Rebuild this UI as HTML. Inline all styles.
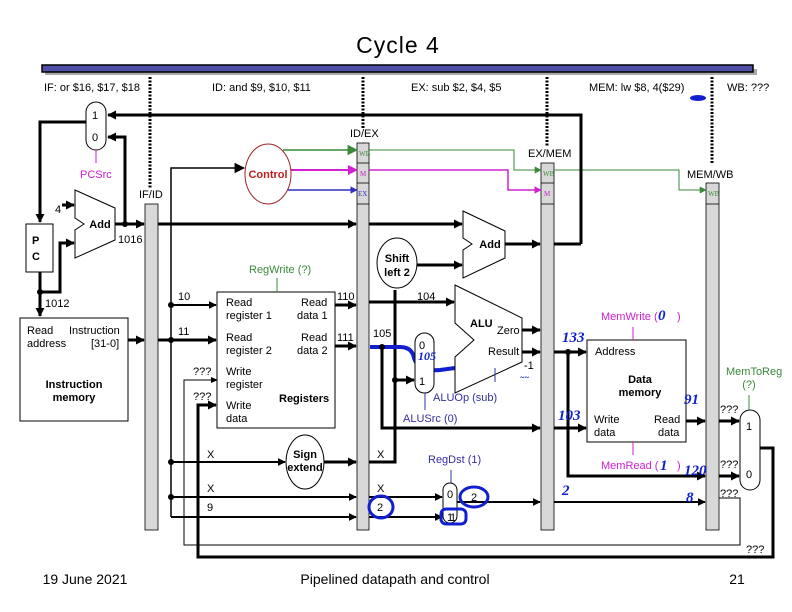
<!DOCTYPE html>
<html><head><style>
body{margin:0;background:#fff}
svg{display:block;font-family:"Liberation Sans",sans-serif}
</style></head><body>
<svg width="792" height="612" viewBox="0 0 792 612">
<defs>
<marker id="a" viewBox="0 0 10 10" refX="9" refY="5" markerWidth="3" markerHeight="3" orient="auto" markerUnits="strokeWidth"><path d="M0,0L10,5L0,10z" fill="#000"/></marker>
<marker id="c" viewBox="0 0 10 10" refX="9" refY="5" markerWidth="4" markerHeight="4" orient="auto" markerUnits="strokeWidth"><path d="M0,0L10,5L0,10z" fill="#000"/></marker>
<marker id="t" viewBox="0 0 10 10" refX="9" refY="5" markerWidth="7" markerHeight="7" orient="auto" markerUnits="strokeWidth"><path d="M0,0L10,5L0,10z" fill="#000"/></marker>
<marker id="g" viewBox="0 0 10 10" refX="9" refY="5" markerWidth="7" markerHeight="7" orient="auto" markerUnits="strokeWidth"><path d="M0,0L10,5L0,10z" fill="#3a8a3a"/></marker>
<marker id="m" viewBox="0 0 10 10" refX="9" refY="5" markerWidth="5" markerHeight="5" orient="auto" markerUnits="strokeWidth"><path d="M0,0L10,5L0,10z" fill="#d020d0"/></marker>
<marker id="b" viewBox="0 0 10 10" refX="9" refY="5" markerWidth="5" markerHeight="5" orient="auto" markerUnits="strokeWidth"><path d="M0,0L10,5L0,10z" fill="#3030c0"/></marker>
</defs>
<text x="398" y="53" font-size="23" text-anchor="middle" letter-spacing="1">Cycle 4</text>
<rect x="45" y="69" width="712" height="6" fill="#aaa"/>
<rect x="42" y="65" width="711" height="7" fill="#5050a8" stroke="#000" stroke-width="1.5"/>
<g stroke="#000" stroke-width="3" stroke-dasharray="2,1.5">
<line x1="150" y1="77" x2="150" y2="188"/><line x1="363" y1="77" x2="363" y2="128"/>
<line x1="547" y1="77" x2="547" y2="147"/><line x1="712" y1="77" x2="712" y2="163"/></g>
<g font-size="11">
<text x="44" y="91">IF: or $16, $17, $18</text><text x="212" y="91">ID: and $9, $10, $11</text>
<text x="411" y="91">EX: sub $2, $4, $5</text><text x="589" y="91">MEM: lw $8, 4($29)</text>
<text x="727" y="91">WB: ???</text>
<text x="139" y="198">IF/ID</text><text x="350" y="137">ID/EX</text><text x="528" y="157">EX/MEM</text><text x="687" y="178">MEM/WB</text>
</g>
<g fill="#d8d8d8" stroke="#000" stroke-width="0.8">
<rect x="145" y="204" width="13" height="326"/>
<rect x="357" y="143" width="12" height="387"/>
<line x1="357" y1="163" x2="369" y2="163"/><line x1="357" y1="183" x2="369" y2="183"/><line x1="357" y1="204" x2="369" y2="204"/>
<rect x="541" y="163" width="13" height="367"/>
<line x1="541" y1="183" x2="554" y2="183"/><line x1="541" y1="204" x2="554" y2="204"/>
<rect x="706" y="183" width="13" height="347"/>
<line x1="706" y1="204" x2="719" y2="204"/>
</g>
<g font-size="7" font-family="Liberation Serif">
<text x="359" y="156" fill="#3a8a3a">WB</text><text x="360" y="176" fill="#d020d0">M</text><text x="358" y="196" fill="#3030c0">EX</text>
<text x="543" y="176" fill="#3a8a3a">WB</text><text x="544" y="196" fill="#d020d0">M</text><text x="708" y="196" fill="#3a8a3a">WB</text>
</g>
<g fill="none" stroke-width="1.5">
<polyline points="283,150 357,150" stroke="#3a8a3a" marker-end="url(#g)"/>
<polyline points="291,170 357,170" stroke="#d020d0" stroke-width="2" marker-end="url(#m)"/>
<polyline points="287,190 357,190" stroke="#3030c0" marker-end="url(#b)"/>
<polyline points="369,150 514,150 514,170 541,170" stroke="#3a8a3a" stroke-width="1" marker-end="url(#g)"/>
<polyline points="369,170 508,170 508,190 541,190" stroke="#d020d0" marker-end="url(#m)"/>
<polyline points="554,170 679,170 679,190 706,190" stroke="#3a8a3a" stroke-width="1" marker-end="url(#g)"/>
</g>
<ellipse cx="268" cy="174" rx="23" ry="30" fill="#fff" stroke="#a02020"/>
<text x="268" y="178" font-size="11" font-weight="bold" fill="#c02020" text-anchor="middle">Control</text>
<g fill="none" stroke="#000" stroke-width="3">
<polyline points="581,244 581,115 108,115" marker-end="url(#a)"/>
<polyline points="554,244 581,244"/>
<polyline points="86,122 40,122 40,222" marker-end="url(#a)"/>
<polyline points="40,272 40,316" marker-end="url(#a)"/>
<polyline points="40,292 60,292 60,243 74,243" marker-end="url(#a)"/>
<polyline points="62,205 74,205" marker-end="url(#a)"/>
<polyline points="115,224 144,224" marker-end="url(#a)"/>
<polyline points="125,224 125,137 108,137" marker-end="url(#a)"/>
<polyline points="158,224 356,224" marker-end="url(#a)"/>
<polyline points="369,224 462,224" marker-end="url(#a)"/>
<polyline points="416,265 462,265" marker-end="url(#a)"/>
<polyline points="505,244 540,244" marker-end="url(#a)"/>
<polyline points="128,340 144,340" marker-end="url(#a)"/>
<polyline points="158,340 216,340" marker-end="url(#a)"/>
<polyline points="335,305 356,305" marker-end="url(#a)"/>
<polyline points="335,346 356,346" marker-end="url(#a)"/>
<polyline points="369,302 454,302" marker-end="url(#a)"/>
<polyline points="382,347 382,428 540,428" marker-end="url(#a)"/>
<polyline points="395,290 395,462 369,462"/>
<polyline points="395,380 414,380" marker-end="url(#a)"/>
<polyline points="324,462 356,462" marker-end="url(#a)"/>
<polyline points="522,330 540,330" marker-end="url(#a)"/>
<polyline points="522,352 540,352" marker-end="url(#a)"/>
<polyline points="554,352 586,352" marker-end="url(#a)"/>
<polyline points="568,352 568,476 705,476" marker-end="url(#a)"/>
<polyline points="554,428 586,428" marker-end="url(#a)"/>
<polyline points="686,421 705,421" marker-end="url(#a)"/>
<polyline points="719,421 739,421" marker-end="url(#a)"/>
<polyline points="719,476 739,476" marker-end="url(#a)"/>
<polyline points="760,448 773,448 773,557 198,557 198,405 216,405" marker-end="url(#a)"/>
</g>
<g fill="none" stroke="#000" stroke-width="2">
<polyline points="171,517 171,168 244,168" marker-end="url(#t)" stroke-width="1.5"/>
<polyline points="171,305 216,305" marker-end="url(#c)"/>
<polyline points="171,462 285,462" marker-end="url(#c)"/>
<polyline points="171,497 356,497" marker-end="url(#c)"/>
<polyline points="171,517 356,517" marker-end="url(#c)"/>
<polyline points="369,497 442,497" marker-end="url(#c)"/>
<polyline points="369,517 442,517" marker-end="url(#c)"/>
<polyline points="457,502 540,502" marker-end="url(#c)"/>
<polyline points="554,502 705,502" marker-end="url(#c)"/>
</g>
<polyline points="719,498 740,498 740,545 184,545 184,380 216,380" fill="none" stroke="#000" stroke-width="1"/>
<polygon points="211,377 218,380 211,383" fill="#000"/>
<path d="M370,347 L400,347 Q412,347 414,358 Q418,372 440,370 L455,368" fill="none" stroke="#1020d0" stroke-width="4"/>
<g fill="#000">
<circle cx="125" cy="224" r="3"/><circle cx="40" cy="292" r="3"/><circle cx="171" cy="305" r="3"/><circle cx="171" cy="340" r="3"/>
<circle cx="171" cy="462" r="3"/><circle cx="171" cy="497" r="3"/><circle cx="382" cy="347" r="3"/><circle cx="395" cy="380" r="3"/><circle cx="568" cy="352" r="3"/>
</g>
<g fill="#fff" stroke="#000" stroke-width="1">
<rect x="86" y="102" width="20" height="48" rx="10"/>
<rect x="415" y="333" width="19" height="60" rx="9.5"/>
<rect x="443" y="483" width="14" height="40" rx="7"/>
<rect x="740" y="410" width="20" height="80" rx="10"/>
<polygon points="75,190 115,208 115,240 75,258 75,230 84,224 75,218"/>
<polygon points="463,211 505,231 505,258 463,278 463,250 472,244 463,238"/>
<polygon points="455,285 522,318 522,362 455,393 455,357 474,340 455,323"/>
<rect x="26" y="224" width="27" height="48"/>
<rect x="20" y="318" width="108" height="103"/>
<rect x="217" y="292" width="118" height="136"/>
<rect x="587" y="340" width="99" height="102"/>
<ellipse cx="397" cy="263" rx="20" ry="25"/>
<ellipse cx="305" cy="462" rx="19" ry="27"/>
</g>
<g stroke-width="1" fill="none">
<line x1="96" y1="150" x2="96" y2="163" stroke="#d020d0"/>
<line x1="277" y1="278" x2="277" y2="292" stroke="#3a8a3a"/>
<line x1="425" y1="393" x2="425" y2="410" stroke="#3030a0"/>
<line x1="495" y1="368" x2="495" y2="382" stroke="#3030a0"/>
<line x1="451" y1="470" x2="451" y2="483" stroke="#3030a0"/>
<line x1="633" y1="327" x2="633" y2="340" stroke="#d020d0"/>
<line x1="633" y1="442" x2="633" y2="455" stroke="#d020d0"/>
<line x1="749" y1="395" x2="749" y2="410" stroke="#3a8a3a"/>
</g>
<g font-size="11">
<text x="92" y="119">1</text><text x="92" y="141">0</text>
<text x="419" y="349">0</text><text x="419" y="385">1</text>
<text x="447" y="498">0</text><text x="447" y="521">1</text>
<text x="746" y="430">1</text><text x="746" y="478">0</text>
<text x="55" y="213">4</text><text x="118" y="243">1016</text><text x="45" y="307">1012</text>
<text x="32" y="244" font-weight="bold">P</text><text x="32" y="260" font-weight="bold">C</text>
<text x="100" y="228" font-weight="bold" text-anchor="middle">Add</text>
<text x="490" y="248" font-weight="bold" text-anchor="middle">Add</text>
<text x="397" y="262" font-weight="bold" text-anchor="middle">Shift</text><text x="397" y="276" font-weight="bold" text-anchor="middle">left 2</text>
<text x="305" y="458" font-weight="bold" text-anchor="middle">Sign</text><text x="305" y="471" font-weight="bold" text-anchor="middle">extend</text>
<text x="470" y="327" font-weight="bold">ALU</text><text x="497" y="334">Zero</text><text x="488" y="355">Result</text><text x="524" y="369">-1</text>
<text x="27" y="334">Read</text><text x="69" y="334">Instruction</text><text x="27" y="347">address</text><text x="91" y="347">[31-0]</text>
<text x="74" y="388" font-weight="bold" text-anchor="middle">Instruction</text><text x="74" y="401" font-weight="bold" text-anchor="middle">memory</text>
<text x="226" y="306">Read</text><text x="226" y="319">register 1</text><text x="301" y="306">Read</text><text x="297" y="319">data 1</text>
<text x="226" y="341">Read</text><text x="226" y="354">register 2</text><text x="301" y="341">Read</text><text x="297" y="354">data 2</text>
<text x="226" y="375">Write</text><text x="226" y="388">register</text><text x="226" y="409">Write</text><text x="226" y="422">data</text>
<text x="279" y="402" font-weight="bold">Registers</text>
<text x="595" y="355">Address</text><text x="640" y="383" font-weight="bold" text-anchor="middle">Data</text><text x="640" y="396" font-weight="bold" text-anchor="middle">memory</text>
<text x="594" y="423">Write</text><text x="594" y="436">data</text><text x="654" y="423">Read</text><text x="658" y="436">data</text>
<text x="178" y="300">10</text><text x="178" y="335">11</text><text x="193" y="375">???</text><text x="193" y="400">???</text>
<text x="337" y="300">110</text><text x="337" y="341">111</text><text x="417" y="300">104</text><text x="373" y="337">105</text>
<text x="207" y="458">X</text><text x="207" y="492">X</text><text x="207" y="511">9</text>
<text x="377" y="458">X</text><text x="377" y="492">X</text><text x="377" y="511">2</text>
<text x="720" y="413">???</text><text x="720" y="468">???</text><text x="720" y="497">???</text><text x="746" y="553">???</text>
</g>
<g font-size="11">
<text x="80" y="178" fill="#d020d0">PCSrc</text>
<text x="249" y="273" fill="#3a8a3a">RegWrite (?)</text>
<text x="403" y="422" fill="#3030a0">ALUSrc (0)</text>
<text x="433" y="401" fill="#3030a0">ALUOp (sub)</text>
<text x="428" y="463" fill="#3030a0">RegDst (1)</text>
<text x="601" y="320" fill="#d020d0">MemWrite (</text><text x="677" y="320" fill="#d020d0">)</text>
<text x="601" y="469" fill="#d020d0">MemRead (</text><text x="677" y="469" fill="#d020d0">)</text>
<text x="726" y="375" fill="#3a8a3a">MemToReg</text><text x="749" y="388" fill="#3a8a3a" text-anchor="middle">(?)</text>
</g>
<g fill="#1020d0" font-weight="bold" font-style="italic" font-size="15" font-family="Liberation Serif">
<ellipse cx="698" cy="98" rx="8" ry="3"/>
<text x="658" y="320">0</text><text x="562" y="342">133</text><text x="558" y="420">103</text>
<text x="684" y="404">91</text><text x="684" y="475">120</text><text x="562" y="495">2</text><text x="686" y="502">8</text>
<text x="418" y="360" font-size="12">105</text><text x="520" y="380" font-size="8">~~</text><text x="660" y="470">1</text>
</g>
<g fill="none" stroke="#1020d0" stroke-width="3">
<ellipse cx="381" cy="507" rx="12" ry="11"/>
<ellipse cx="474" cy="497" rx="14" ry="10"/>
<rect x="441" y="509" width="25" height="15" rx="5"/>
</g>
<text x="474" y="501" font-size="11" text-anchor="middle">2</text>
<text x="450" y="521" font-size="11">1</text>
<g font-size="14">
<text x="85" y="584" text-anchor="middle">19 June 2021</text>
<text x="395" y="584" text-anchor="middle">Pipelined datapath and control</text>
<text x="737" y="584" text-anchor="middle">21</text>
</g>
</svg>
</body></html>
